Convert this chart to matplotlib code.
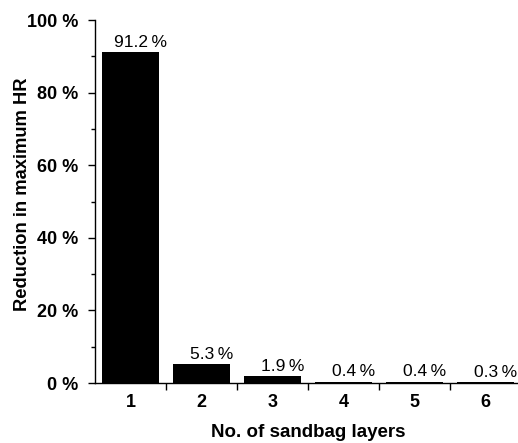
import numpy as np
import matplotlib.pyplot as plt
from matplotlib.ticker import FixedLocator, FuncFormatter

layers = [1, 2, 3, 4, 5, 6]
reduction = [91.2, 5.3, 1.9, 0.4, 0.4, 0.3]

plt.rcParams['font.family'] = ['Liberation Sans', 'DejaVu Sans']

fig = plt.figure(figsize=(5.18, 4.43), dpi=100)
ax = fig.add_axes([0.1834, 0.1354, 0.822, 0.8194])

ax.bar(layers, reduction, width=0.8, color='black')
for x, v in zip(layers, reduction):
    ax.text(x + 0.14, v + 0.6, f'{v:.1f}\u2009%', ha='center', va='bottom', fontsize=12.5)

ax.set_xlim(0.5, 6.5)
ax.set_ylim(0, 100)

# category labels at integers, tick marks between categories
ax.xaxis.set_major_locator(FixedLocator(np.arange(1.5, 6.5, 1)))
ax.xaxis.set_minor_locator(FixedLocator(layers))
ax.xaxis.set_major_formatter(FuncFormatter(lambda v, p: ''))
ax.xaxis.set_minor_formatter(FuncFormatter(lambda v, p: f'{int(round(v))}'))
ax.tick_params(axis='x', which='major', length=5, width=1, direction='out')
ax.tick_params(axis='x', which='minor', length=0, pad=8, labelsize=13)
for lab in ax.xaxis.get_minorticklabels():
    lab.set_fontweight('bold')

ax.yaxis.set_major_locator(FixedLocator(np.arange(0, 101, 20)))
ax.yaxis.set_minor_locator(FixedLocator(np.arange(10, 100, 20)))
ax.yaxis.set_major_formatter(FuncFormatter(lambda v, p: f'{int(v)} %'))
ax.tick_params(axis='y', which='major', length=5, width=1, labelsize=13, pad=7)
ax.tick_params(axis='y', which='minor', length=3, width=1)
for lab in ax.get_yticklabels():
    lab.set_fontweight('bold')

ax.spines['top'].set_visible(False)
ax.spines['right'].set_visible(False)
ax.spines['left'].set_linewidth(1)
ax.spines['bottom'].set_linewidth(1)

ax.set_xlabel('No. of sandbag layers', fontsize=13.5, fontweight='bold', labelpad=9)
ax.set_ylabel('Reduction in maximum HR', fontsize=13.2, fontweight='bold')
ax.yaxis.set_label_coords(-0.15, 0.52)

fig.savefig('out.png', dpi=100)
